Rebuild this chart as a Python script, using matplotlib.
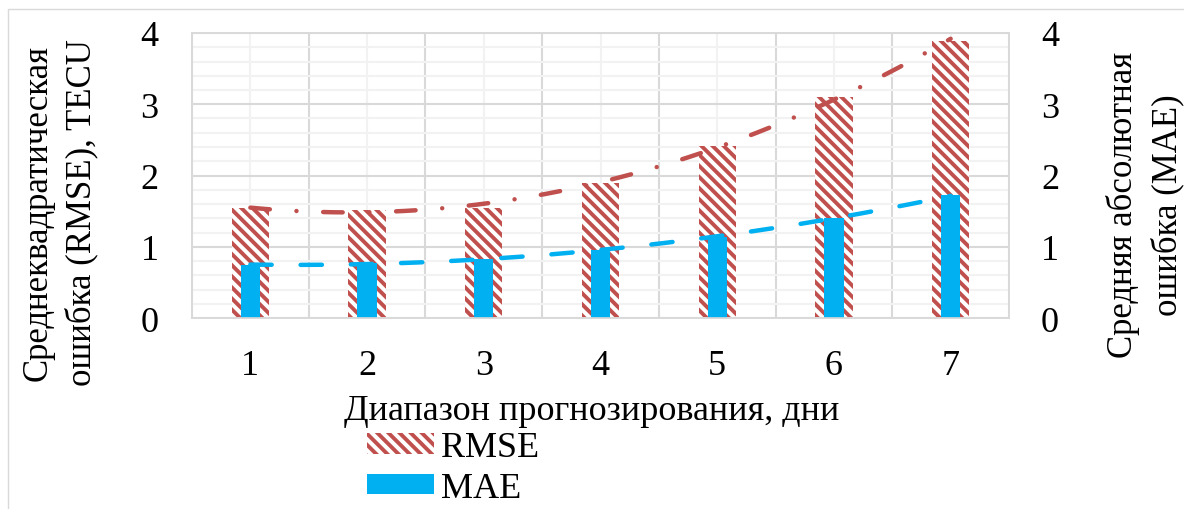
import numpy as np
import matplotlib
matplotlib.use("Agg")
import matplotlib.pyplot as plt
from matplotlib.patches import Rectangle

plt.rcParams['font.family'] = ['Liberation Serif', 'DejaVu Serif']
plt.rcParams['hatch.linewidth'] = 2.8

# data
days = [1, 2, 3, 4, 5, 6, 7]
rmse = [1.55, 1.52, 1.54, 1.90, 2.42, 3.10, 3.89]
mae = [0.74, 0.77, 0.83, 0.96, 1.13, 1.40, 1.72]
yticks = [0, 1, 2, 3, 4]

red = '#C0504D'
blue = '#00B0F0'
grid_major = '#D9D9D9'
grid_minor = '#F2F2F2'
fs = 26

W, H = 1184, 510
fig = plt.figure(figsize=(W / 100, H / 100), dpi=100)
ax = fig.add_axes([192 / W, 1 - 319 / H, (1009 - 192) / W, (319 - 34) / H])
ax2 = ax.twinx()

# RMSE on primary axis
ax.bar(days, rmse, width=0.32, color='white', edgecolor=red, hatch='\\\\\\',
       linewidth=0, label='RMSE', zorder=2)
xs = np.linspace(days[0], days[-1], 200)
p1 = np.polyfit(days, rmse, 2)
ax.plot(xs, np.polyval(p1, xs), color=red, lw=3.2,
        linestyle=(0, (4.4, 6, 0.01, 6)), dash_capstyle='round', zorder=3)

# MAE on secondary axis
ax2.bar(days, mae, width=0.165, color=blue, linewidth=0, label='MAE', zorder=2)
p2 = np.polyfit(days, mae, 2)
ax2.plot(xs, np.polyval(p2, xs), color=blue, lw=3.2,
         linestyle=(0, (4.8, 6.5)), dash_capstyle='round', zorder=3)

for a in (ax, ax2):
    a.set_ylim(0, 4)
    a.set_yticks(yticks)
    a.set_yticklabels([str(t) for t in yticks])
    a.set_xlim(0.5, 7.5)
    for s in a.spines.values():
        s.set_color(grid_major)
        s.set_linewidth(1.2)
    a.tick_params(length=0, labelsize=fs)
ax.tick_params(axis='y', pad=24)
ax2.tick_params(axis='y', pad=23)
ax.tick_params(axis='x', pad=22)
ax.set_xticks(days)

# Excel style grid
ax.set_yticks(np.arange(0, 4.01, 0.2), minor=True)
ax.set_xticks(np.arange(0.5, 7.6, 1.0), minor=True)
ax.tick_params(which='minor', length=0)
ax.grid(True, which='minor', axis='y', color=grid_minor, lw=1.5, zorder=0)
ax.grid(True, which='major', axis='y', color=grid_major, lw=1.5, zorder=0)
ax.grid(True, which='major', axis='x', color=grid_minor, lw=1.5, zorder=0)
ax.grid(True, which='minor', axis='x', color=grid_major, lw=1.5, zorder=0)
ax.set_axisbelow(True)
ax2.patch.set_visible(False)

ax.set_xlabel('Диапазон прогнозирования, дни', fontsize=fs, labelpad=10)
ax.xaxis.set_label_coords(0.489, -0.265)

fig.text(60 / W, 1 - 213 / H, 'Среднеквадратическая\nошибка (RMSE), TECU',
         rotation=90, ha='center', va='center', fontsize=25,
         multialignment='center', linespacing=1.4)
fig.text(1145 / W, 1 - 205 / H, 'Средняя абсолютная\nошибка (MAE)',
         rotation=90, ha='center', va='center', fontsize=25,
         multialignment='center', linespacing=1.4)

h1, l1 = ax.get_legend_handles_labels()
h2, l2 = ax2.get_legend_handles_labels()
fig.legend(h1 + h2, l1 + l2, loc='center left',
           bbox_to_anchor=(349 / W, 1 - 469 / H), frameon=False,
           fontsize=fs, borderpad=0, handlelength=1.85, handleheight=0.5,
           handletextpad=0.2, labelspacing=0.2)

fig.patches.append(Rectangle((8 / W, -0.01), 1.0, 1 - 10 / H + 0.01,
                             transform=fig.transFigure, fill=False,
                             edgecolor=grid_major, lw=1))

fig.savefig('out.png', dpi=100, facecolor='white')
